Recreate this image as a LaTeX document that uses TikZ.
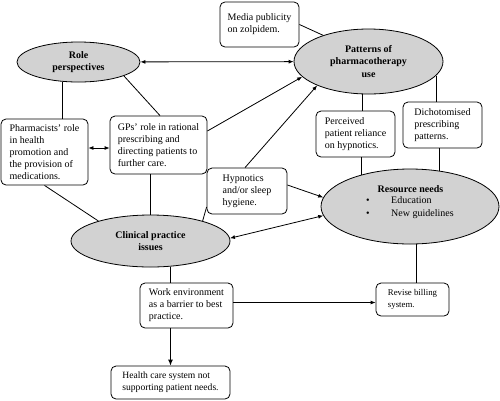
\documentclass[tikz,border=0pt]{standalone}
\usepackage{fontspec}
\setmainfont{Liberation Serif}
\usetikzlibrary{shapes.geometric,arrows.meta,calc}
\tikzset{
  box/.style={draw, rounded corners=5pt, line width=0.8pt, align=left,
    inner xsep=2pt, inner ysep=0pt, font=\fontsize{10}{12}\selectfont},
  oval/.style={ellipse, draw, fill=gray!35, line width=0.8pt, inner sep=0pt,
    align=center, font=\fontsize{10}{12.5}\selectfont\bfseries},
  conn/.style={line width=0.8pt},
  arr/.style={conn, -{Latex[length=5pt,width=4pt]}},
  arrtwo/.style={conn, {Latex[length=5pt,width=4pt]}-{Latex[length=5pt,width=4pt]}},
  plain/.style={inner sep=0pt, font=\fontsize{10}{12}\selectfont}
}
\begin{document}
\begin{tikzpicture}[x=1pt,y=-1pt]
\useasboundingbox (0,0) rectangle (500,400);
% ellipses
\node[oval, minimum width=123pt, minimum height=40pt] (role) at (78.5,62) {Role\\perspectives};
\node[oval, minimum width=149pt, minimum height=65pt] (patt) at (368.5,61.5) {Patterns of\\pharmacotherapy\\use};
\node[oval, minimum width=159pt, minimum height=52pt] (clin) at (150.5,241) {Clinical practice\\issues};
\node[oval, minimum width=178pt, minimum height=75pt] (res) at (410,206.5) {};
\node[plain, font=\fontsize{10}{12}\selectfont\bfseries, anchor=base] (restitle) at (410.5,192) {Resource needs};
\node[plain, anchor=base west] (edu) at (366,203) {\makebox[25pt][l]{\textbullet}Education};
\node[plain, anchor=base west] (guide) at (366,216) {\makebox[25pt][l]{\textbullet}New guidelines};
% boxes
\node[box, minimum width=79pt, minimum height=45pt] (media) at (259.5,24.5) {Media publicity\\on zolpidem.};
\node[box, minimum width=87pt, minimum height=66pt] (pharm) at (44.5,152) {Pharmacists' role\\in health\\promotion and\\the provision of\\medications.};
\node[box, minimum width=97pt, minimum height=58pt] (gps) at (158.5,145) {GPs' role in rational\\prescribing and\\directing patients to\\further care.};
\node[box, minimum width=79pt, minimum height=46pt] (perc) at (355.5,134) {Perceived\\patient reliance\\on hypnotics.};
\node[box, minimum width=79pt, minimum height=46pt] (dich) at (442.5,125) {Dichotomised\\prescribing\\patterns.};
\node[box, minimum width=80pt, minimum height=46pt] (hyp) at (247,191) {Hypnotics\\and/or sleep\\hygiene.};
\node[box, minimum width=93pt, minimum height=45pt] (work) at (186.5,305.5) {Work environment\\as a barrier to best\\practice.};
\node[box, minimum width=73pt, minimum height=33pt, font=\fontsize{8.8}{11.5}\selectfont] (rev) at (412.5,299.5) {Revise billing\\system.};
\node[box, minimum width=119pt, minimum height=33pt, font=\fontsize{9.6}{12}\selectfont] (health) at (170.5,382.5) {Health care system not\\supporting patient needs.};
% helper coordinates
\coordinate (pg) at ($(pharm.east)+(0,-4)$);
\coordinate (wr) at ($(work.east)+(0,-3)$);
% connectors
\draw[arrtwo] (role) -- (patt);
\draw[conn] (role.231) -- (role.231 |- pharm.north);
\draw[conn] (role.343) -- ($(gps.north)+(1.5,0)$);
\draw[arrtwo] (pg) -- (gps.west |- pg);
\draw[arr] ($(gps.east)+(0,-14)$) -- (patt.193);
\draw[arr] ($(hyp.north)+(-2,0)$) -- (patt.205);
\draw[conn] (pharm.south) -- (clin.159);
\draw[conn] (clin.north) -- (clin.north |- gps.south);
\draw[conn] ($(hyp.west)+(0,16)$) -- (clin.21);
\draw[arr] ($(hyp.east)+(0,-6)$) -- (res.174);
\draw[arrtwo] (clin.2) -- (res.186);
\draw[conn] (media.east) -- (patt.150);
\draw[conn] (patt.259) -- (patt.259 |- perc.north);
\draw[conn] (patt.348) -- (patt.348 |- dich.north);
\draw[conn] (res.147) -- (res.147 |- perc.south);
\draw[conn] (res.51) -- (res.51 |- dich.south);
\draw[conn] (clin.308) -- (clin.308 |- work.north);
\draw[arr] (wr) -- (rev.west |- wr);
\draw[conn] (res.279) -- (res.279 |- rev.north);
\draw[conn, line width=1pt, -{Latex[length=6pt,width=5pt]}] (health.north |- work.south) -- (health.north);
\end{tikzpicture}
\end{document}
